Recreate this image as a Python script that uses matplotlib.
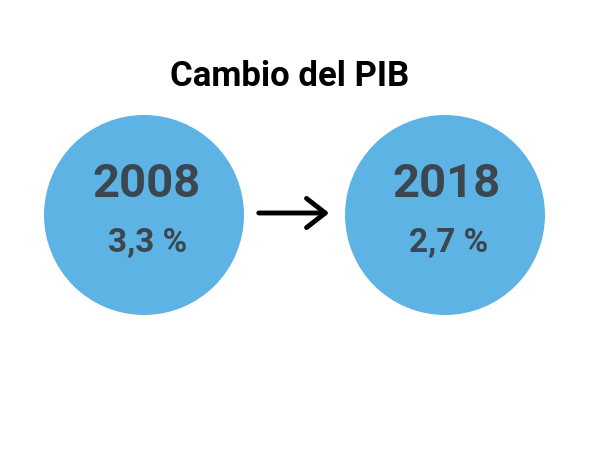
import matplotlib.pyplot as plt
from matplotlib.patches import Circle, FancyArrowPatch

# Datos
years = ['2008', '2018']
pib = [3.3, 2.7]
title = 'Cambio del PIB'

circle_color = '#5db4e4'
text_color = '#3b4650'

plt.rcParams['font.family'] = ['Roboto', 'DejaVu Sans']

fig = plt.figure(figsize=(6, 4.5), dpi=100)
ax = fig.add_axes([0, 0, 1, 1])
ax.set_xlim(0, 600)
ax.set_ylim(450, 0)
ax.set_aspect('equal')
ax.axis('off')

centers_x = [144, 445]
cy = 215
r = 100

for cx, year, val in zip(centers_x, years, pib):
    ax.add_patch(Circle((cx, cy), r, facecolor=circle_color, edgecolor='none'))
    ax.text(cx + 2, cy - 31, year, ha='center', va='center', fontsize=34,
            fontweight='bold', color=text_color)
    label = f'{val:.1f}'.replace('.', ',') + ' %'
    ax.text(cx + 4, cy + 28, label, ha='center', va='center', fontsize=24,
            fontweight='bold', color=text_color)

# Flecha entre los dos circulos
ax.add_patch(FancyArrowPatch((256, 213), (332, 213), arrowstyle='->,head_length=9,head_width=7',
                             mutation_scale=1.5, linewidth=3.5, color='black'))

ax.text(290, 77, title, ha='center', va='center', fontsize=25,
        fontweight='bold', color='black')

fig.savefig('out.png', dpi=100)
